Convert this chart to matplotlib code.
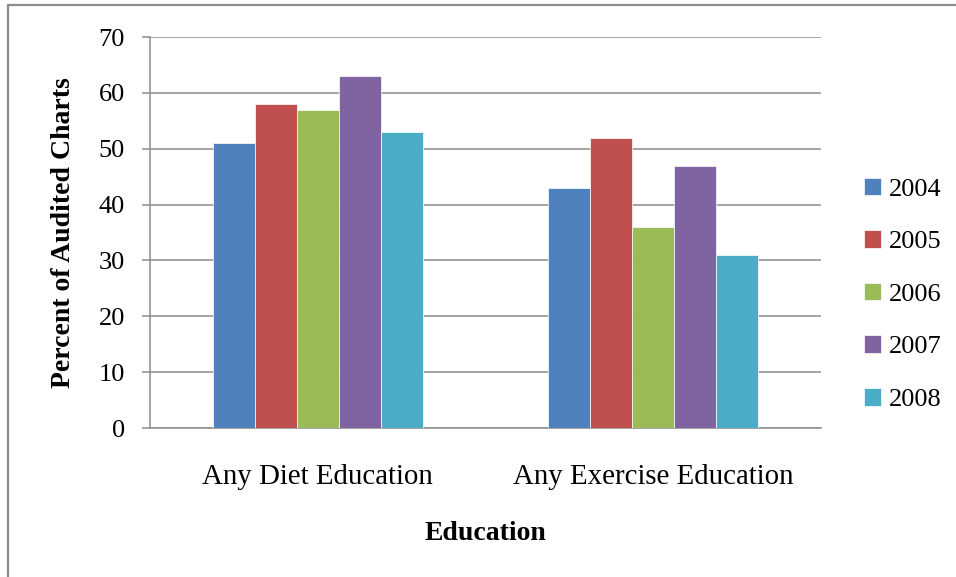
import numpy as np
import matplotlib.pyplot as plt
from matplotlib.patches import Rectangle

# percent of audited charts by year
categories = ['Any Diet Education', 'Any Exercise Education']
years = ['2004', '2005', '2006', '2007', '2008']
values = {
    '2004': [51, 43],
    '2005': [58, 52],
    '2006': [57, 36],
    '2007': [63, 47],
    '2008': [53, 31],
}
colors = ['#4F81BD', '#C0504D', '#9BBB59', '#8064A2', '#4BACC6']

plt.rcParams['font.family'] = ['Liberation Serif', 'DejaVu Serif']
grey = '#8c8c8c'

fig = plt.figure(figsize=(9.56, 5.77), dpi=100)
ax = fig.add_axes([0.1569, 0.2582, 0.7019, 0.6776])

# outer chart frame (only top and left edges fall inside the image)
fig.patches.append(Rectangle((8 / 956, -0.1), 1.2, 1.1 - 5 / 577,
                             transform=fig.transFigure, fill=False,
                             edgecolor=grey, linewidth=1.6))

x = np.arange(len(categories))
w = 0.125
for i, yr in enumerate(years):
    ax.bar(x + (i - 2) * w, values[yr], width=w, color=colors[i],
           edgecolor='white', linewidth=0.5, label=yr, zorder=3)

ax.set_xlim(-0.5, 1.5)
ax.set_ylim(0, 70)
ax.set_yticks(range(0, 71, 10))
ax.yaxis.grid(True, color=grey, linewidth=1.1, zorder=0)
ax.set_xticks(x)
ax.set_xticklabels(categories, fontsize=20.8)
ax.tick_params(axis='x', length=0, pad=26)
ax.tick_params(axis='y', length=6, width=1.1, color=grey, labelsize=19, pad=12)

for s in ['top', 'right']:
    ax.spines[s].set_visible(False)
for s in ['left', 'bottom']:
    ax.spines[s].set_color(grey)
    ax.spines[s].set_linewidth(1.1)

ax.set_ylabel('Percent of Audited Charts', fontsize=20, fontweight='bold', labelpad=16)
ax.set_xlabel('Education', fontsize=20, fontweight='bold', labelpad=22)

ax.legend(loc='center left', bbox_to_anchor=(1.064, 0.342), frameon=False,
          fontsize=19, handlelength=0.65, handleheight=0.65, handletextpad=0.3,
          labelspacing=1.12, borderpad=0, borderaxespad=0)

fig.savefig('out.png', dpi=100)
